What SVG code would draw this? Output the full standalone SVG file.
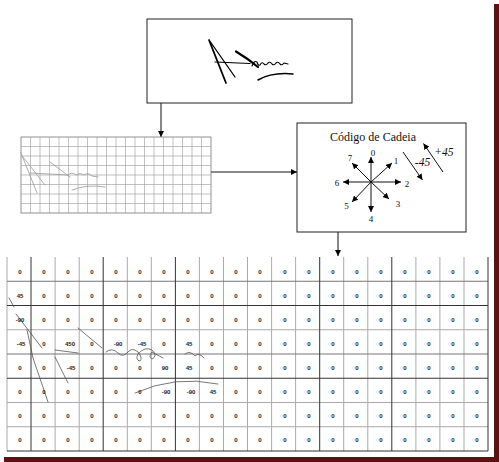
<svg xmlns="http://www.w3.org/2000/svg" width="499" height="462" viewBox="0 0 499 462">
<style>
.box{fill:#fff;stroke:#222;stroke-width:1}
.conn{fill:none;stroke:#111;stroke-width:1}
.sig{fill:none;stroke:#000;stroke-linecap:round;stroke-linejoin:round}
.sgs{fill:none;stroke:#999;stroke-width:0.8;stroke-linecap:round}
.bgs{fill:none;stroke:#555;stroke-width:0.8;stroke-linecap:round}
.sg{stroke:#999;stroke-width:0.6}
.lt{stroke:#aaa;stroke-width:1}
.md{stroke:#777;stroke-width:1}
.dk{stroke:#333;stroke-width:1}
.t{font-family:"Liberation Serif","Times New Roman",serif;fill:#111}
.d{font-family:"Liberation Serif","Times New Roman",serif;font-size:9px;fill:#111;text-anchor:middle}
.c{font-family:"Liberation Sans",Arial,sans-serif;font-size:6px;font-weight:bold;fill:#222;text-anchor:middle}
</style>
<defs>
<marker id="ah" viewBox="0 0 10 10" refX="10" refY="5" markerWidth="6" markerHeight="6" markerUnits="userSpaceOnUse" orient="auto"><path d="M0,0 L10,5 L0,10 z" fill="#000"/></marker>
</defs>
<rect width="499" height="462" fill="#fff"/>
<!-- frame -->
<rect x="494" y="4" width="5" height="458" fill="#5a1212"/>
<rect x="4" y="457" width="495" height="5" fill="#5a1212"/>

<g id="connectors">
<line class="conn" x1="161" y1="103" x2="161" y2="137" marker-end="url(#ah)"/>
<line class="conn" x1="211" y1="172" x2="297" y2="172" marker-end="url(#ah)"/>
<line class="conn" x1="338" y1="232" x2="338" y2="256" marker-end="url(#ah)"/>
</g>

<g id="signature">
<rect class="box" x="147" y="19" width="205" height="84"/>
<path class="sig" stroke-width="1.8" d="M209,40 L226,83"/>
<path class="sig" stroke-width="1.3" d="M210.5,42 L235,77"/>
<path class="sig" stroke-width="1.2" d="M215,62 L250,63.5"/>
<path class="sig" stroke-width="2.2" d="M236,51.5 Q247,58 258,67"/>
<path class="sig" stroke-width="1.1" d="M252,66 Q254,60 257,62 Q258,66 260,65 Q262,61 264,64 Q266,66 268,63 Q270,61 272,64 Q274,66 276,63 Q278,61 280,64 Q282,66 284,63 L288,64"/>
<path class="sig" stroke-width="1.5" d="M258,80 Q272,72 293,74"/>
</g>

<g id="grid">
<rect x="21" y="137" width="190" height="76" fill="#fff" stroke="#777" stroke-width="0.8"/>
<path class="sg" d="M30.5,137V213M40,137V213M49.5,137V213M59,137V213M68.5,137V213M78,137V213M87.5,137V213M97,137V213M106.5,137V213M116,137V213M125.5,137V213M135,137V213M144.5,137V213M154,137V213M163.5,137V213M173,137V213M182.5,137V213M192,137V213M201.5,137V213M21,146.5H211M21,156H211M21,165.5H211M21,175H211M21,184.5H211M21,194H211M21,203.5H211"/>
<path class="sgs" d="M21,153 L37,193M23,157 L45,185M30,173 L68,175M50,162 L70,177M68,175 Q72,171 76,175 Q80,172 84,175 Q88,172 92,176 L98,177M72,190 Q87,184 105,187"/>
</g>

<g id="chaincode">
<rect class="box" x="297" y="123" width="169" height="109"/>
<text class="t" x="373" y="141" font-size="12" text-anchor="middle">Código de Cadeia</text>
<g class="conn">
<line x1="371" y1="182" x2="371" y2="157" marker-end="url(#ah)"/>
<line x1="371" y1="182" x2="392" y2="163" marker-end="url(#ah)"/>
<line x1="371" y1="182" x2="401" y2="182" marker-end="url(#ah)"/>
<line x1="371" y1="182" x2="389" y2="199" marker-end="url(#ah)"/>
<line x1="371" y1="182" x2="371" y2="212" marker-end="url(#ah)"/>
<line x1="371" y1="182" x2="352" y2="202" marker-end="url(#ah)"/>
<line x1="371" y1="182" x2="343" y2="182" marker-end="url(#ah)"/>
<line x1="371" y1="182" x2="352" y2="163" marker-end="url(#ah)"/>
<line x1="403" y1="152" x2="422.5" y2="180" marker-end="url(#ah)"/>
<line x1="443" y1="172" x2="423.5" y2="143.5" marker-end="url(#ah)"/>
</g>
<text class="d" x="373" y="155.5">0</text>
<text class="d" x="396" y="163.5">1</text>
<text class="d" x="407" y="186.5">2</text>
<text class="d" x="398" y="206.5">3</text>
<text class="d" x="371" y="221.5">4</text>
<text class="d" x="346.5" y="209">5</text>
<text class="d" x="337" y="186">6</text>
<text class="d" x="350" y="160.5">7</text>
<text class="t" x="422.5" y="165.5" font-size="11.5" font-style="italic" text-anchor="middle">-45</text>
<text class="t" x="444" y="156" font-size="11.5" font-style="italic" text-anchor="middle">+45</text>
</g>

<g id="codegrid">
<path class="lt" d="M7,257V451M55.1,257V451M79.2,257V451M127.3,257V451M151.3,257V451M199.4,257V451M223.5,257V451M247.5,257V451M271.6,257V451M295.6,257V451M343.7,257V451M367.8,257V451M415.9,257V451M439.9,257V451M464,257V451M7,329.75H488M7,402.5H488M7,426.75H488"/>
<path class="md" d="M7,281.25H488M7,354H488"/>
<path class="dk" d="M31,257V451M103.2,257V451M175.4,257V451M319.7,257V451M391.8,257V451M488,257V451M7,305.5H488M7,378.25H488M7,451H488"/>
<path class="bgs" d="M9,298 L14,307M27,330 L33,358 L48,402M16,314 L42,348M55,357 L68,383M55,350 L78,353M78,328 L102,348M106,352 Q112,347 118,353 Q123,358 128,352 Q132,347 138,352 Q143,358 140,361 Q135,360 138,354 Q145,346 152,350 Q158,356 152,359 Q148,357 152,352 L163,358M185,354 Q190,350 195,356 Q199,352 204,358M135,393 Q175,375 218,384"/>
<g transform="translate(0,273.6)">
<text class="c" x="20">0</text><text class="c" x="44">0</text><text class="c" x="68">0</text><text class="c" x="92">0</text><text class="c" x="116">0</text><text class="c" x="140">0</text><text class="c" x="164">0</text><text class="c" x="188">0</text><text class="c" x="212">0</text><text class="c" x="236">0</text><text class="c" x="260">0</text><text class="c" x="285">0</text><text class="c" x="309">0</text><text class="c" x="333">0</text><text class="c" x="357">0</text><text class="c" x="381">0</text><text class="c" x="405">0</text><text class="c" x="429">0</text><text class="c" x="453">0</text><text class="c" x="477">0</text>
</g>
<g transform="translate(0,297.8)">
<text class="c" x="20">45</text><text class="c" x="44">0</text><text class="c" x="68">0</text><text class="c" x="92">0</text><text class="c" x="116">0</text><text class="c" x="140">0</text><text class="c" x="164">0</text><text class="c" x="188">0</text><text class="c" x="212">0</text><text class="c" x="236">0</text><text class="c" x="260">0</text><text class="c" x="285">0</text><text class="c" x="309">0</text><text class="c" x="333">0</text><text class="c" x="357">0</text><text class="c" x="381">0</text><text class="c" x="405">0</text><text class="c" x="429">0</text><text class="c" x="453">0</text><text class="c" x="477">0</text>
</g>
<g transform="translate(0,322)">
<text class="c" x="20">-90</text><text class="c" x="44">0</text><text class="c" x="68">0</text><text class="c" x="92">0</text><text class="c" x="116">0</text><text class="c" x="140">0</text><text class="c" x="164">0</text><text class="c" x="188">0</text><text class="c" x="212">0</text><text class="c" x="236">0</text><text class="c" x="260">0</text><text class="c" x="285">0</text><text class="c" x="309">0</text><text class="c" x="333">0</text><text class="c" x="357">0</text><text class="c" x="381">0</text><text class="c" x="405">0</text><text class="c" x="429">0</text><text class="c" x="453">0</text><text class="c" x="477">0</text>
</g>
<g transform="translate(0,346)">
<text class="c" x="21">-45</text><text class="c" x="44">0</text><text class="c" x="70">450</text><text class="c" x="92">0</text><text class="c" x="118">-90</text><text class="c" x="142">-45</text><text class="c" x="164">0</text><text class="c" x="189">45</text><text class="c" x="212">0</text><text class="c" x="236">0</text><text class="c" x="260">0</text><text class="c" x="285">0</text><text class="c" x="309">0</text><text class="c" x="333">0</text><text class="c" x="357">0</text><text class="c" x="381">0</text><text class="c" x="405">0</text><text class="c" x="429">0</text><text class="c" x="453">0</text><text class="c" x="477">0</text>
</g>
<g transform="translate(0,369.6)">
<text class="c" x="20">0</text><text class="c" x="44">0</text><text class="c" x="71">-45</text><text class="c" x="92">0</text><text class="c" x="116">0</text><text class="c" x="140">0</text><text class="c" x="165">90</text><text class="c" x="189">45</text><text class="c" x="212">0</text><text class="c" x="236">0</text><text class="c" x="260">0</text><text class="c" x="285">0</text><text class="c" x="309">0</text><text class="c" x="333">0</text><text class="c" x="357">0</text><text class="c" x="381">0</text><text class="c" x="405">0</text><text class="c" x="429">0</text><text class="c" x="453">0</text><text class="c" x="477">0</text>
</g>
<g transform="translate(0,393.8)">
<text class="c" x="20">0</text><text class="c" x="44">0</text><text class="c" x="68">0</text><text class="c" x="92">0</text><text class="c" x="116">0</text><text class="c" x="140">0</text><text class="c" x="166">-90</text><text class="c" x="191">-90</text><text class="c" x="213">45</text><text class="c" x="236">0</text><text class="c" x="260">0</text><text class="c" x="285">0</text><text class="c" x="309">0</text><text class="c" x="333">0</text><text class="c" x="357">0</text><text class="c" x="381">0</text><text class="c" x="405">0</text><text class="c" x="429">0</text><text class="c" x="453">0</text><text class="c" x="477">0</text>
</g>
<g transform="translate(0,418)">
<text class="c" x="20">0</text><text class="c" x="44">0</text><text class="c" x="68">0</text><text class="c" x="92">0</text><text class="c" x="116">0</text><text class="c" x="140">0</text><text class="c" x="164">0</text><text class="c" x="188">0</text><text class="c" x="212">0</text><text class="c" x="236">0</text><text class="c" x="260">0</text><text class="c" x="285">0</text><text class="c" x="309">0</text><text class="c" x="333">0</text><text class="c" x="357">0</text><text class="c" x="381">0</text><text class="c" x="405">0</text><text class="c" x="429">0</text><text class="c" x="453">0</text><text class="c" x="477">0</text>
</g>
<g transform="translate(0,442)">
<text class="c" x="20">0</text><text class="c" x="44">0</text><text class="c" x="68">0</text><text class="c" x="92">0</text><text class="c" x="116">0</text><text class="c" x="140">0</text><text class="c" x="164">0</text><text class="c" x="188">0</text><text class="c" x="212">0</text><text class="c" x="236">0</text><text class="c" x="260">0</text><text class="c" x="285">0</text><text class="c" x="309">0</text><text class="c" x="333">0</text><text class="c" x="357">0</text><text class="c" x="381">0</text><text class="c" x="405">0</text><text class="c" x="429">0</text><text class="c" x="453">0</text><text class="c" x="477">0</text>
</g>
</g>
</svg>
